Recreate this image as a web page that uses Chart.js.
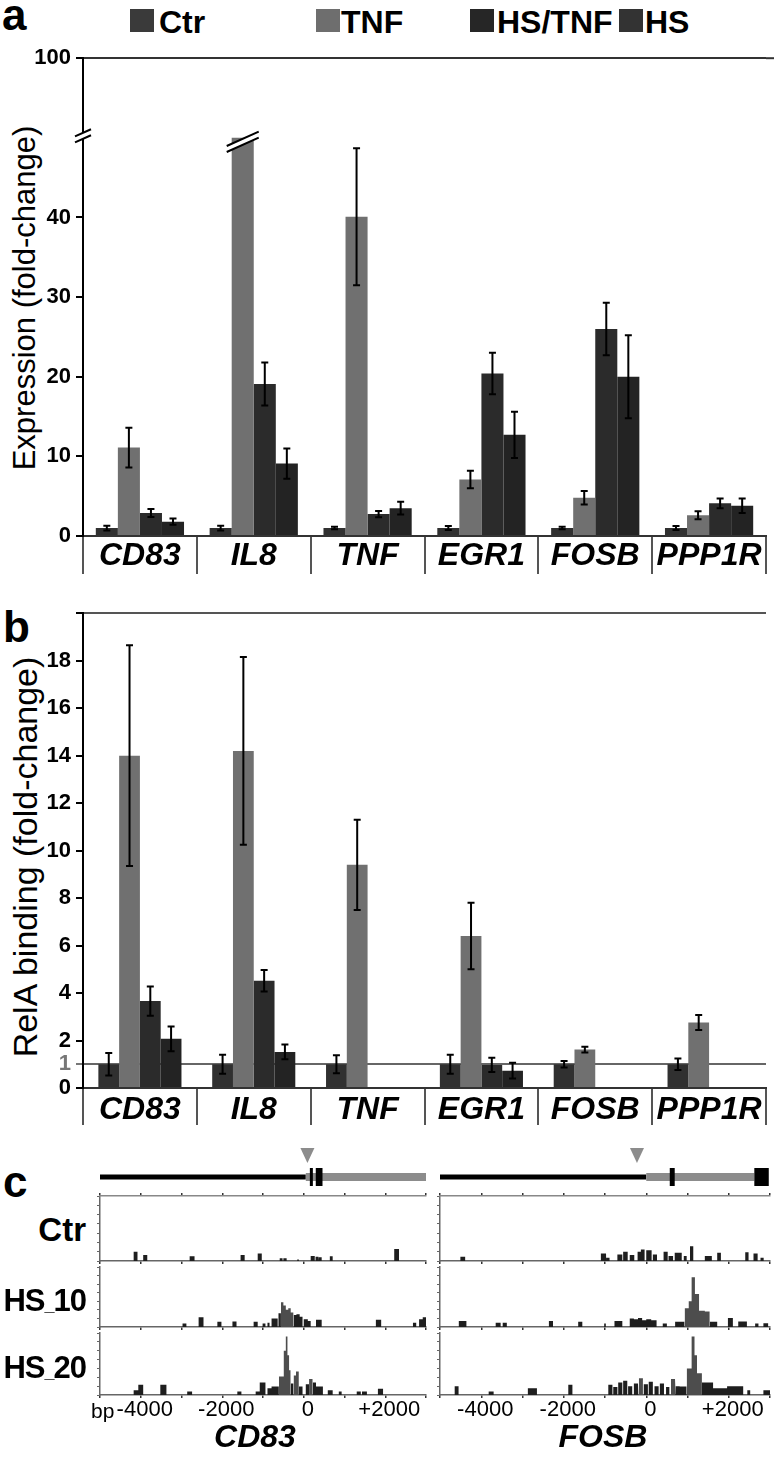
<!DOCTYPE html>
<html>
<head>
<meta charset="utf-8">
<script src="https://cdn.jsdelivr.net/npm/chart.js@4.4.1/dist/chart.umd.min.js"></script>
<style>
  body { margin: 0; background: #fff; width: 774px; height: 1458px; position: relative; overflow: hidden;
         font-family: "Liberation Sans", Arial, sans-serif; color: #000; }
  canvas { position: absolute; }
  .t { position: absolute; white-space: nowrap; line-height: 1; }
  .b { font-weight: bold; }
  .panel { font-weight: bold; font-size: 44px; }
  .sw { position: absolute; width: 24px; height: 23px; }
  .rot { position: absolute; white-space: nowrap; line-height: 1; transform: translate(-50%, -50%) rotate(-90deg); }
  .trk { position: absolute; font-weight: bold; line-height: 1; text-align: right; white-space: nowrap; }
  .gene { position: absolute; font-weight: bold; font-style: italic; font-size: 32px; line-height: 1; transform: translateX(-50%); }
</style>
</head>
<body>

<div class="t panel" style="left:2px;top:-7px">a</div>
<div class="t panel" style="left:3px;top:605px">b</div>
<div class="t panel" style="left:3px;top:1160px">c</div>

<div class="sw" style="left:130px;top:9px;background:#3a3a3a"></div>
<div class="t b" style="left:159px;top:6px;font-size:32px">Ctr</div>
<div class="sw" style="left:316px;top:9px;background:#6e6e6e"></div>
<div class="t b" style="left:341px;top:6px;font-size:32px">TNF</div>
<div class="sw" style="left:470px;top:9px;background:#262626"></div>
<div class="t b" style="left:497px;top:6px;font-size:32px">HS/TNF</div>
<div class="sw" style="left:619px;top:9px;background:#333"></div>
<div class="t b" style="left:645px;top:6px;font-size:32px">HS</div>

<div class="rot" style="left:24px;top:298px;font-size:31px">Expression (fold-change)</div>
<div class="rot" style="left:25px;top:857px;font-size:34px">RelA binding (fold-change)</div>

<canvas id="chartA" width="774" height="545" style="left:0;top:40px"></canvas>
<canvas id="chartB" width="774" height="540" style="left:0;top:595px"></canvas>

<canvas id="cd83Ctr" width="340" height="124" style="left:90px;top:1140px"></canvas>
<canvas id="cd83Hs10" width="340" height="66" style="left:90px;top:1264px"></canvas>
<canvas id="cd83Hs20" width="340" height="95" style="left:90px;top:1330px"></canvas>
<canvas id="fosbCtr" width="344" height="124" style="left:430px;top:1140px"></canvas>
<canvas id="fosbHs10" width="344" height="66" style="left:430px;top:1264px"></canvas>
<canvas id="fosbHs20" width="344" height="95" style="left:430px;top:1330px"></canvas>

<div class="trk" style="right:688px;top:1213px;font-size:33px">Ctr</div>
<div class="trk" style="right:688px;top:1285px;font-size:31px;letter-spacing:-1px">HS<span style="font-size:18px">_</span>10</div>
<div class="trk" style="right:688px;top:1352px;font-size:31px;letter-spacing:-1px">HS<span style="font-size:18px">_</span>20</div>
<div class="t" style="left:91px;top:1400px;font-size:21px;font-family:'Liberation Sans Narrow','Liberation Sans',sans-serif">bp</div>
<div class="gene" style="left:255px;top:1420px">CD83</div>
<div class="gene" style="left:603px;top:1420px">FOSB</div>

<script>
// ---- data ----
const genes = ["CD83", "IL8", "TNF", "EGR1", "FOSB", "PPP1R"];
const seriesNames = ["Ctr", "TNF", "HS/TNF", "HS"];
const barColors = ["#303030", "#707070", "#2b2b2b", "#232323"];

// panel a: expression fold-change
const exprCtr = [1, 1, 1, 1, 1, 1];
const exprTnf = [11.1, 100, 40.1, 7.1, 4.8, 2.6];
const exprHsTnf = [2.9, 19.1, 2.75, 20.4, 26, 4.1];
const exprHs = [1.8, 9.1, 3.5, 12.7, 20, 3.8];
const exprErrCtr = [0.3, 0.3, 0.15, 0.25, 0.15, 0.25];
const exprErrTnf = [2.5, null, 8.6, 1.1, 0.85, 0.5];
const exprErrHsTnf = [0.5, 2.7, 0.4, 2.6, 3.3, 0.6];
const exprErrHs = [0.4, 1.9, 0.8, 2.9, 5.2, 0.9];
const exprTicksLow = [0, 10, 20, 30, 40];
const exprTicksHigh = [100];

// panel b: RelA binding fold-change
const bindCtr = [1, 1, 1, 1, 1, 1];
const bindTnf = [14.0, 14.2, 9.4, 6.4, 1.62, 2.76];
const bindHsTnf = [3.66, 4.52, null, 0.97, null, null];
const bindHs = [2.07, 1.52, null, 0.73, null, null];
const bindErrCtr = [0.47, 0.4, 0.38, 0.4, 0.14, 0.24];
const bindErrTnf = [4.65, 3.95, 1.9, 1.4, 0.12, 0.32];
const bindErrHsTnf = [0.62, 0.45, null, 0.3, null, null];
const bindErrHs = [0.52, 0.31, null, 0.33, null, null];
const bindTicks = [0, 1, 2, 4, 6, 8, 10, 12, 14, 16, 18, 20];

// panel c: read-coverage tracks, [start bp, end bp, height]
const bpTicks = [-5000, -4000, -3000, -2000, -1000, 0, 1000, 2000, 3000];
const trackTicks = [0, 1, 2, 3, 4, 5, 6, 7];

const cd83Gene = { upstream: [-5000, 50], transcript: [50, 3000], exons: [[150, 215], [295, 460]], tss: 90 };
const fosbGene = { upstream: [-5000, 0], transcript: [0, 2620], exons: [[570, 690], [2620, 2970]], tss: -225 };

const cd83Ctr = [[-4180, -4080, 1.0], [-3940, -3840, 0.65], [-2800, -2680, 0.5], [-1550, -1450, 0.65],
  [-1130, -1030, 0.8], [-590, -520, 0.3], [-500, -420, 0.3], [-160, -120, 0.15], [170, 270, 0.55],
  [290, 360, 0.45], [370, 440, 0.4], [640, 710, 0.5], [2220, 2340, 1.3]];
const cd83Hs10 = [[-2980, -2880, 0.4], [-2580, -2460, 1.15], [-2120, -2020, 0.6], [-1750, -1650, 0.65],
  [-1230, -1130, 0.6], [-1010, -940, 0.4], [-890, -840, 0.5], [-790, -640, 1.0], [-620, -560, 1.6],
  [-560, -500, 2.9], [-500, -440, 2.5], [-440, -380, 2.0], [-380, -320, 2.2], [-320, -250, 1.7],
  [-250, -180, 1.4], [-180, -100, 1.5], [-100, -30, 1.2], [0, 100, 0.9], [100, 170, 0.7],
  [300, 440, 0.85], [1770, 1900, 0.85], [2680, 2760, 0.5], [2830, 2920, 0.9], [2920, 3000, 1.15]];
const cd83Hs20 = [[-4180, -4060, 0.55], [-4060, -3940, 1.15], [-3520, -3370, 1.15], [-2860, -2740, 0.4],
  [-1630, -1530, 0.4], [-1180, -1080, 0.4], [-1080, -940, 1.4], [-890, -790, 0.75], [-790, -610, 0.95],
  [-610, -490, 2.1], [-490, -440, 5.0], [-440, -400, 6.6], [-400, -360, 4.5], [-360, -320, 2.8],
  [-320, -250, 1.3], [-250, -190, 2.2], [-190, -120, 2.65], [-120, -30, 0.95], [50, 130, 1.2],
  [130, 220, 1.8], [220, 300, 1.4], [300, 470, 0.95], [590, 710, 0.55], [860, 930, 0.4],
  [1300, 1400, 0.4], [1430, 1550, 0.4], [1820, 1950, 0.7]];
const fosbCtr = [[-4510, -4390, 0.45], [-1100, -975, 0.8], [-970, -890, 0.35], [-700, -580, 0.7],
  [-560, -450, 1.0], [-400, -290, 0.65], [-210, -130, 1.0], [-130, -40, 1.25], [0, 130, 1.15],
  [160, 260, 0.7], [420, 520, 1.0], [540, 650, 0.55], [690, 860, 0.9], [910, 980, 0.55],
  [1060, 1140, 1.6], [1420, 1590, 0.55], [1720, 1810, 0.9], [2400, 2480, 0.95], [2600, 2700, 0.8],
  [2770, 2850, 0.35]];
const fosbHs10 = [[-4550, -4360, 0.7], [-3650, -3530, 0.5], [-3480, -3380, 0.5], [-2360, -2260, 0.7],
  [-1650, -1550, 0.6], [-1020, -980, 0.4], [-770, -580, 0.7], [-400, -300, 1.0], [-300, -200, 0.9],
  [-200, -100, 1.05], [-100, 0, 0.8], [0, 120, 0.9], [120, 250, 0.8], [400, 500, 0.4], [700, 930, 0.6],
  [930, 1030, 2.2], [1030, 1100, 3.0], [1100, 1180, 5.8], [1180, 1280, 3.85], [1280, 1420, 1.9],
  [1420, 1540, 1.8], [1540, 1720, 0.6], [1980, 2100, 1.05], [2230, 2440, 0.65], [2640, 2720, 0.4],
  [2840, 2960, 0.45]];
const fosbHs20 = [[-4650, -4550, 1.0], [-3820, -3700, 0.4], [-2870, -2650, 0.75], [-1890, -1790, 1.15],
  [-920, -820, 1.15], [-800, -700, 0.9], [-680, -580, 1.4], [-560, -460, 1.6], [-440, -340, 1.0],
  [-300, -200, 1.3], [-180, -80, 1.9], [-60, 40, 1.2], [60, 160, 1.5], [200, 300, 1.0], [330, 430, 1.3],
  [480, 560, 0.9], [600, 700, 1.8], [720, 810, 1.0], [810, 980, 0.95], [980, 1100, 3.0],
  [1100, 1170, 6.6], [1170, 1230, 4.5], [1230, 1350, 2.45], [1350, 1620, 1.4], [1620, 1960, 0.75],
  [1960, 2350, 1.0], [2450, 2520, 0.55], [2840, 3000, 0.55]];

// ---- shared ----
const SANS = "'Liberation Sans', Arial, sans-serif";
const NARROW = "'Liberation Sans Narrow', 'Liberation Sans', sans-serif";
const asTicks = (list) => (scale) => { scale.ticks = list.map((v) => ({ value: v })); };

const errorBars = {
  id: "errorBars",
  afterDatasetsDraw(chart) {
    const ctx = chart.ctx;
    ctx.save();
    ctx.strokeStyle = "#000";
    ctx.lineWidth = 2;
    chart.data.datasets.forEach((ds, i) => {
      if (!ds.errors) return;
      const meta = chart.getDatasetMeta(i);
      const ys = chart.scales[meta.yAxisID];
      meta.data.forEach((bar, j) => {
        const v = ds.data[j];
        const e = ds.errors[j];
        if (v == null || e == null) return;
        const top = ys.getPixelForValue(v + e);
        const bot = ys.getPixelForValue(v - e);
        ctx.beginPath();
        ctx.moveTo(bar.x, top); ctx.lineTo(bar.x, bot);
        ctx.moveTo(bar.x - 3.5, top); ctx.lineTo(bar.x + 3.5, top);
        ctx.moveTo(bar.x - 3.5, bot); ctx.lineTo(bar.x + 3.5, bot);
        ctx.stroke();
      });
    });
    ctx.restore();
  }
};

function drawBreak(ctx, cx, cy, hw) {
  const s = 0.45, g = 3;
  ctx.save();
  ctx.fillStyle = "#fff";
  ctx.beginPath();
  ctx.moveTo(cx - hw, cy + hw * s - g);
  ctx.lineTo(cx + hw, cy - hw * s - g);
  ctx.lineTo(cx + hw, cy - hw * s + g);
  ctx.lineTo(cx - hw, cy + hw * s + g);
  ctx.closePath();
  ctx.fill();
  ctx.strokeStyle = "#000";
  ctx.lineWidth = 2;
  ctx.beginPath();
  ctx.moveTo(cx - hw, cy + hw * s - g); ctx.lineTo(cx + hw, cy - hw * s - g);
  ctx.moveTo(cx - hw, cy + hw * s + g); ctx.lineTo(cx + hw, cy - hw * s + g);
  ctx.stroke();
  ctx.restore();
}

const axisBreak = {
  id: "axisBreak",
  afterDraw(chart) {
    const ctx = chart.ctx;
    const low = chart.scales.yLow;
    const high = chart.scales.yHigh;
    const cy = low.top;
    drawBreak(ctx, chart.chartArea.left, cy - 2, 8);
    const tnfBar = chart.getDatasetMeta(1).data[1];
    drawBreak(ctx, tnfBar.x, cy + 4, 16);
    // the 100 line runs on to the right edge
    const y100 = high.getPixelForValue(100);
    ctx.save();
    ctx.strokeStyle = "#333";
    ctx.lineWidth = 2;
    ctx.beginPath();
    ctx.moveTo(chart.chartArea.right, y100);
    ctx.lineTo(chart.width, y100);
    ctx.stroke();
    ctx.restore();
  }
};

const geneModel = {
  id: "geneModel",
  afterDraw(chart, args, o) {
    if (!o || !o.gene) return;
    const g = o.gene;
    const ctx = chart.ctx;
    const px = (v) => chart.scales.x.getPixelForValue(v);
    const cy = chart.chartArea.top - 19;
    ctx.save();
    ctx.fillStyle = "#000";
    ctx.fillRect(px(g.upstream[0]), cy - 2.5, px(g.upstream[1]) - px(g.upstream[0]), 5);
    ctx.fillStyle = "#8c8c8c";
    ctx.fillRect(px(g.transcript[0]), cy - 4, px(g.transcript[1]) - px(g.transcript[0]), 8);
    ctx.fillStyle = "#000";
    g.exons.forEach(([s, e]) => ctx.fillRect(px(s), cy - 9, Math.max(px(e) - px(s), 3), 18));
    const tx = px(g.tss);
    ctx.fillStyle = "#8c8c8c";
    ctx.beginPath();
    ctx.moveTo(tx - 7, cy - 29); ctx.lineTo(tx + 7, cy - 29); ctx.lineTo(tx, cy - 14);
    ctx.closePath();
    ctx.fill();
    ctx.restore();
  }
};

function barDatasets(values, errors, yAxisID, catPct) {
  return values.map((data, k) => ({
    label: seriesNames[k],
    data,
    errors: errors[k],
    backgroundColor: barColors[k],
    borderWidth: 0,
    yAxisID,
    categoryPercentage: catPct,
    barPercentage: 1.0
  }));
}

function categoryAxis(height, tickLength, padding) {
  return {
    grid: { offset: true, drawOnChartArea: false, tickLength, color: "#555", lineWidth: 2 },
    border: { color: "#333", width: 2 },
    ticks: { color: "#000", padding, maxRotation: 0, autoSkip: false,
      font: { family: SANS, size: 32, weight: "bold", style: "italic" } },
    afterFit: (s) => { s.height = height; }
  };
}

const yTickFont = { family: SANS, size: 22, weight: "bold" };

// ---- panel a ----
function initExpressionChart() {
  new Chart(document.getElementById("chartA"), {
    type: "bar",
    data: {
      labels: genes,
      datasets: barDatasets([exprCtr, exprTnf, exprHsTnf, exprHs],
        [exprErrCtr, exprErrTnf, exprErrHsTnf, exprErrHs], "yLow", 0.775)
    },
    options: {
      responsive: false,
      animation: false,
      layout: { padding: { top: 15, right: 8, left: 0, bottom: 0 } },
      plugins: { legend: { display: false }, tooltip: { enabled: false } },
      scales: {
        x: categoryAxis(49, 38, -37),
        yLow: {
          type: "linear", position: "left", stack: "expr", stackWeight: 400, min: 0, max: 50,
          afterBuildTicks: asTicks(exprTicksLow),
          grid: { drawOnChartArea: false, tickLength: 7, lineWidth: 2, color: "#000" },
          border: { color: "#000", width: 2 },
          ticks: { color: "#000", padding: 5, font: yTickFont },
          afterFit: (s) => { s.width = 83; }
        },
        yHigh: {
          type: "linear", position: "left", stack: "expr", stackWeight: 80, min: 90, max: 100,
          afterBuildTicks: asTicks(exprTicksHigh),
          grid: { drawOnChartArea: true, tickLength: 7, lineWidth: 2, tickColor: "#000",
            color: (c) => (c.tick && c.tick.value === 100 ? "#333" : "transparent") },
          border: { color: "#000", width: 2 },
          ticks: { color: "#000", padding: 5, font: yTickFont },
          afterFit: (s) => { s.width = 83; }
        }
      }
    },
    plugins: [errorBars, axisBreak]
  });
}

// ---- panel b ----
function initBindingChart() {
  new Chart(document.getElementById("chartB"), {
    type: "bar",
    data: {
      labels: genes,
      datasets: barDatasets([bindCtr, bindTnf, bindHsTnf, bindHs],
        [bindErrCtr, bindErrTnf, bindErrHsTnf, bindErrHs], "y", 0.73)
    },
    options: {
      responsive: false,
      animation: false,
      layout: { padding: { top: 12, right: 8, left: 0, bottom: 0 } },
      plugins: { legend: { display: false }, tooltip: { enabled: false } },
      scales: {
        x: categoryAxis(47, 37, -34),
        y: {
          min: 0, max: 20,
          afterBuildTicks: asTicks(bindTicks),
          grid: { drawOnChartArea: true, tickLength: 7, lineWidth: 2,
            tickColor: (c) => (c.tick && c.tick.value === 1 ? "#777" : "#000"),
            color: (c) => {
              const v = c.tick && c.tick.value;
              return v === 1 ? "#666" : v === 20 ? "#555" : "transparent";
            } },
          border: { color: "#000", width: 2 },
          ticks: { padding: 5, font: yTickFont,
            color: (c) => (c.tick && c.tick.value === 1 ? "#777" : "#000"),
            callback: (v) => (v === 20 ? "" : String(v)) },
          afterFit: (s) => { s.width = 83; }
        }
      }
    },
    plugins: [errorBars]
  });
}

// ---- panel c ----
// step outline of the read piles; touching bins are joined without dropping to zero
function trackPoints(segs) {
  const pts = [];
  let lastEnd = null;
  segs.forEach(([s, e, h]) => {
    if (lastEnd !== s) {
      if (lastEnd !== null) pts.push({ x: lastEnd, y: 0 });
      pts.push({ x: s, y: 0 });
    }
    pts.push({ x: s, y: h }, { x: e, y: h });
    lastEnd = e;
  });
  if (lastEnd !== null) pts.push({ x: lastEnd, y: 0 });
  return pts;
}

function bpLabel(v) {
  if (v === 0) return "0";
  if (v % 2000 !== 0) return "";
  return v > 0 ? "+" + v : String(v);
}

// taller read piles (the peak) are shown in a lighter grey
const peakFill = (c) => (Math.min(c.p0.parsed.y, c.p1.parsed.y) >= 1.7 ? "#4d4d4d" : undefined);

function initTrack(id, segs, cfg) {
  const scales = {
    x: {
      type: "linear", min: -5000, max: 3000,
      afterBuildTicks: asTicks(bpTicks),
      grid: { drawOnChartArea: false, tickLength: 3, color: "#333", lineWidth: 1.5 },
      border: { color: "#666", width: 1.5 },
      ticks: { display: !!cfg.labels, color: "#000", padding: -1, labelOffset: 4, maxRotation: 0,
        autoSkip: false, font: { family: NARROW, size: 22 }, callback: bpLabel },
      afterFit: (s) => { s.height = cfg.xHeight; }
    },
    y: {
      min: 0, max: 7,
      afterBuildTicks: asTicks(trackTicks),
      grid: { drawOnChartArea: false, tickLength: 3, color: "#666", lineWidth: 1 },
      border: { color: "#666", width: 1.5 },
      ticks: { display: false },
      afterFit: (s) => { s.width = 10; }
    }
  };
  if (cfg.gene) {
    scales.xTop = {
      type: "linear", position: "top", min: -5000, max: 3000,
      afterBuildTicks: asTicks(bpTicks),
      grid: { drawOnChartArea: false, tickLength: 3, color: "#333", lineWidth: 1.5 },
      border: { color: "#888", width: 1.5 },
      ticks: { display: false },
      afterFit: (s) => { s.height = 0; }
    };
  }
  new Chart(document.getElementById(id), {
    type: "line",
    data: {
      datasets: [{
        data: trackPoints(segs),
        fill: "origin",
        backgroundColor: "#1e1e1e",
        segment: { backgroundColor: peakFill },
        borderWidth: 0,
        pointRadius: 0,
        tension: 0
      }]
    },
    options: {
      responsive: false,
      animation: false,
      layout: { padding: { top: cfg.padTop, right: 4, left: 0, bottom: 0 } },
      plugins: { legend: { display: false }, tooltip: { enabled: false }, geneModel: { gene: cfg.gene } },
      scales
    },
    plugins: [geneModel]
  });
}

initExpressionChart();
initBindingChart();
initTrack("cd83Ctr", cd83Ctr, { gene: cd83Gene, padTop: 56, xHeight: 3 });
initTrack("cd83Hs10", cd83Hs10, { padTop: 3, xHeight: 3 });
initTrack("cd83Hs20", cd83Hs20, { padTop: 3, xHeight: 30, labels: true });
initTrack("fosbCtr", fosbCtr, { gene: fosbGene, padTop: 56, xHeight: 3 });
initTrack("fosbHs10", fosbHs10, { padTop: 3, xHeight: 3 });
initTrack("fosbHs20", fosbHs20, { padTop: 3, xHeight: 30, labels: true });
</script>
</body>
</html>
